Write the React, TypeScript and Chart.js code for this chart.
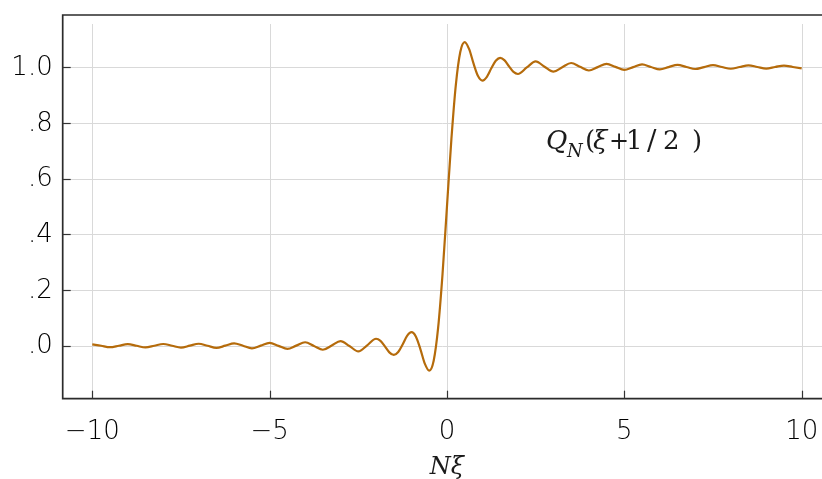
import React, { useEffect, useRef } from "react";
import { Chart, registerables } from "chart.js";
Chart.register(...registerables);

// N·xi positions and Q_N values
const xValues = [
  -10, -9.75, -9.5, -9.25, -9, -8.75, -8.5, -8.25, -8, -7.75, -7.5, -7.25, -7, -6.75, -6.5, -6.25,
  -6, -5.75, -5.5, -5.25, -5, -4.75, -4.5, -4.25, -4, -3.75, -3.5, -3.25, -3, -2.75, -2.5, -2.25,
  -2, -1.875, -1.75, -1.625, -1.5, -1.375, -1.25, -1.125, -1, -0.875, -0.75, -0.625, -0.5, -0.375,
  -0.25, -0.125, 0, 0.125, 0.25, 0.375, 0.5, 0.625, 0.75, 0.875, 1, 1.125, 1.25, 1.375, 1.5, 1.625,
  1.75, 1.875, 2, 2.25, 2.5, 2.75, 3, 3.25, 3.5, 3.75, 4, 4.25, 4.5, 4.75, 5, 5.25, 5.5, 5.75, 6,
  6.25, 6.5, 6.75, 7, 7.25, 7.5, 7.75, 8, 8.25, 8.5, 8.75, 9, 9.25, 9.5, 9.75, 10,
];
const qValues = [
  0.0051, -0.0001, -0.0053, 0.0001, 0.0056, -0.0001, -0.006, 0.0001, 0.0063, -0.0001, -0.0068, 0.0002,
  0.0072, -0.0002, -0.0078, 0.0002, 0.0084, -0.0002, -0.0092, 0.0003, 0.0101, -0.0004, -0.0113, 0.0004,
  0.0126, -0.0006, -0.0144, 0.0008, 0.0168, -0.001, -0.0201, 0.0015, 0.025, 0.0175, -0.0025, -0.0238,
  -0.0331, -0.0223, 0.0047, 0.0351, 0.0486, 0.0325, -0.0119, -0.064, -0.0895, -0.0538, 0.0637, 0.258,
  0.5, 0.742, 0.9363, 1.0538, 1.0895, 1.064, 1.0119, 0.9675, 0.9514, 0.9649, 0.9953, 1.0223, 1.0331,
  1.0238, 1.0025, 0.9825, 0.975, 0.9985, 1.0201, 1.001, 0.9832, 0.9992, 1.0144, 1.0006, 0.9874, 0.9996,
  1.0113, 1.0004, 0.9899, 0.9997, 1.0092, 1.0002, 0.9916, 0.9998, 1.0078, 1.0002, 0.9928, 0.9998, 1.0068,
  1.0001, 0.9937, 0.9999, 1.006, 1.0001, 0.9944, 0.9999, 1.0053, 1.0001, 0.9949,
];

const xTicks = [-10, -5, 0, 5, 10];
const xTickLabels = ["\u221210", "\u22125", "0", "5", "10"];
const yTicks = [0, 0.2, 0.4, 0.6, 0.8, 1.0];
const yTickLabels = [".0", ".2", ".4", ".6", ".8", "1.0"];

const X_MIN = -10.834;
const X_MAX = 10.573;
const Y_MIN = -0.19;
const Y_MAX = 1.1866;

const LINE_COLOR = "#b56b0b";
const SANS = "'DejaVu Sans', sans-serif";
const SERIF = "'DejaVu Serif', serif";

// annotation pieces: text, dx from anchor, font, dy
const annotationPieces: [string, number, string, number][] = [
  ["Q", -1, `italic 26px ${SERIF}`, 0],
  ["N", 20, `italic 18px ${SERIF}`, 8],
  ["(", 38, `26px ${SERIF}`, 0],
  ["\u03BE", 46, `italic 26px ${SERIF}`, 0],
  ["+", 62, `24px ${SERIF}`, 0],
  ["1", 79, `26px ${SERIF}`, 0],
  ["/", 100, `28px ${SERIF}`, 1],
  ["2", 116, `26px ${SERIF}`, 0],
  [")", 145, `26px ${SERIF}`, 0],
];
const annotationAnchor = { x: 2.82, y: 0.705 };

const framePlugin = {
  id: "framePlugin",
  beforeDatasetsDraw(chart: any) {
    const { ctx, chartArea, scales } = chart;
    const { left, top, right, bottom } = chartArea;
    ctx.save();
    ctx.strokeStyle = "#d9d9d9";
    ctx.lineWidth = 1;
    for (const t of xTicks) {
      const px = Math.round(scales.x.getPixelForValue(t)) + 0.5;
      ctx.beginPath();
      ctx.moveTo(px, top + 9);
      ctx.lineTo(px, bottom);
      ctx.stroke();
    }
    for (const t of yTicks) {
      const py = Math.round(scales.y.getPixelForValue(t)) + 0.5;
      ctx.beginPath();
      ctx.moveTo(left, py);
      ctx.lineTo(right, py);
      ctx.stroke();
    }
    ctx.restore();
  },
  afterDraw(chart: any) {
    const { ctx, chartArea, scales } = chart;
    const { left, top, right, bottom } = chartArea;
    ctx.save();
    // frame
    ctx.strokeStyle = "#2b2b2b";
    ctx.lineWidth = 1.7;
    ctx.beginPath();
    ctx.moveTo(right, top);
    ctx.lineTo(left, top);
    ctx.lineTo(left, bottom);
    ctx.lineTo(right, bottom);
    ctx.stroke();
    // ticks (inward)
    ctx.lineWidth = 1.2;
    ctx.strokeStyle = "#333";
    for (const t of xTicks) {
      const px = Math.round(scales.x.getPixelForValue(t)) + 0.5;
      ctx.beginPath();
      ctx.moveTo(px, bottom);
      ctx.lineTo(px, bottom - 8);
      ctx.stroke();
    }
    for (const t of yTicks) {
      const py = Math.round(scales.y.getPixelForValue(t)) + 0.5;
      ctx.beginPath();
      ctx.moveTo(left, py);
      ctx.lineTo(left + 8, py);
      ctx.stroke();
    }
    // tick labels
    ctx.fillStyle = "#000";
    ctx.font = `300 26px ${SANS}`;
    ctx.textAlign = "right";
    ctx.textBaseline = "middle";
    yTicks.forEach((t, i) => {
      ctx.fillText(yTickLabels[i], left - 10, scales.y.getPixelForValue(t) + 1);
    });
    ctx.textAlign = "center";
    ctx.textBaseline = "alphabetic";
    xTicks.forEach((t, i) => {
      ctx.fillText(xTickLabels[i], scales.x.getPixelForValue(t), bottom + 40);
    });
    // axis title
    ctx.fillStyle = "#1a1a1a";
    ctx.font = `italic 24px ${SERIF}`;
    ctx.textAlign = "center";
    ctx.fillText("N\u03BE", scales.x.getPixelForValue(0), bottom + 75);
    // annotation
    const ax = scales.x.getPixelForValue(annotationAnchor.x);
    const ay = scales.y.getPixelForValue(annotationAnchor.y);
    ctx.textAlign = "left";
    for (const [txt, dx, font, dy] of annotationPieces) {
      ctx.font = font;
      ctx.fillText(txt, ax + dx, ay + dy);
    }
    ctx.restore();
  },
};

export default function App() {
  const ref = useRef<HTMLCanvasElement | null>(null);
  useEffect(() => {
    if (!ref.current) return;
    const chart = new Chart(ref.current, {
      type: "line",
      data: {
        datasets: [
          {
            data: xValues.map((x, i) => ({ x, y: qValues[i] })),
            borderColor: LINE_COLOR,
            borderWidth: 2.2,
            pointRadius: 0,
            fill: false,
            cubicInterpolationMode: "monotone",
          },
        ],
      },
      options: {
        responsive: false,
        animation: false,
        layout: { padding: { top: 15, left: 0, right: 0, bottom: 0 } },
        plugins: { legend: { display: false }, tooltip: { enabled: false } },
        scales: {
          x: {
            type: "linear",
            min: X_MIN,
            max: X_MAX,
            grid: { display: false },
            border: { display: false },
            ticks: { display: false },
            afterFit: (s: any) => {
              s.height = 80.3;
            },
          },
          y: {
            type: "linear",
            min: Y_MIN,
            max: Y_MAX,
            grid: { display: false },
            border: { display: false },
            ticks: { display: false },
            afterFit: (s: any) => {
              s.width = 62.7;
            },
          },
        },
      },
      plugins: [framePlugin],
    } as any);
    return () => chart.destroy();
  }, []);
  return (
    <div style={{ position: "fixed", left: 0, top: 0, width: 822, height: 479, background: "#fff" }}>
      <canvas ref={ref} width={822} height={479} style={{ display: "block" }} />
    </div>
  );
}
